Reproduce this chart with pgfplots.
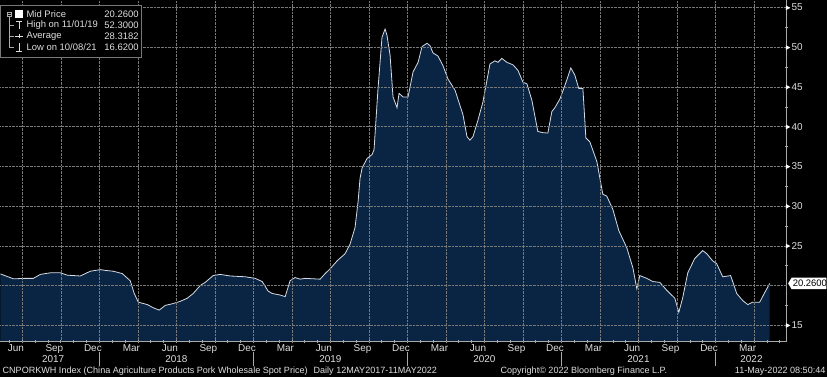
\documentclass[border=0pt]{standalone}
\usepackage{pgfplots}
\pgfplotsset{compat=1.18}
\usepackage{pgfplotstable}
\usepackage{fontspec}
\setmainfont{Liberation Sans}
\definecolor{bbnavy}{RGB}{10,37,68}
\definecolor{bbline}{RGB}{214,220,228}
\definecolor{bbgrid}{RGB}{120,120,120}
\definecolor{bbtext}{RGB}{222,222,222}
\definecolor{bbaxis}{RGB}{170,170,170}

% x = months since 1 Jan 2017, v = CNY/kg
\pgfplotstableread{
m v
4.30 21.46
5.31 20.84
6.24 20.90
6.86 20.90
7.41 21.40
8.19 21.60
8.97 21.60
9.51 21.30
10.52 21.20
11.30 21.80
12.08 22.00
12.47 21.90
13.09 21.80
13.79 21.50
14.41 20.60
14.72 19.00
15.04 17.90
15.74 17.60
16.20 17.20
16.67 16.90
17.14 17.50
17.68 17.70
18.30 18.00
18.85 18.40
19.32 19.00
19.86 20.00
20.25 20.40
20.87 21.25
21.42 21.40
22.20 21.20
23.36 21.10
24.14 20.90
24.69 20.50
25.15 19.30
25.46 19.00
26.09 18.80
26.48 18.60
26.86 20.60
27.25 21.00
27.64 20.80
28.03 20.90
29.20 20.80
29.59 21.50
29.98 22.10
30.52 23.10
31.14 24.00
31.53 25.20
31.92 27.30
32.16 30.60
32.31 33.50
32.47 34.80
32.86 36.00
33.25 36.50
33.40 37.10
33.71 44.80
34.02 51.25
34.26 52.30
34.41 51.50
34.65 49.00
34.88 43.75
35.19 42.40
35.35 44.20
35.66 43.75
36.05 43.75
36.44 46.90
36.83 48.10
37.14 50.10
37.53 50.50
37.76 50.20
37.99 49.30
38.38 48.90
38.77 47.70
39.16 46.00
39.71 44.60
40.09 42.70
40.33 41.50
40.64 38.75
40.87 38.30
41.11 38.75
41.49 40.80
41.88 43.10
42.43 47.90
42.82 48.30
43.05 48.10
43.36 48.60
43.75 48.10
44.22 47.80
44.61 47.10
45.00 45.60
45.31 45.40
45.70 43.30
46.16 39.40
46.55 39.25
46.94 39.20
47.25 41.90
47.49 42.40
47.88 43.50
48.27 45.20
48.73 47.40
49.04 46.50
49.35 44.80
49.67 44.80
49.90 38.60
50.21 38.10
50.76 35.60
51.22 31.50
51.53 31.25
52.00 29.60
52.47 26.90
53.09 24.75
53.56 22.25
53.87 19.60
54.10 21.25
54.65 20.90
55.11 20.50
55.66 20.40
56.20 19.40
56.83 18.40
57.14 16.62
57.45 18.50
57.84 21.60
58.38 23.40
59.00 24.40
59.32 24.00
59.78 23.10
60.09 22.75
60.56 21.10
61.18 21.25
61.65 19.00
62.12 18.10
62.51 17.60
62.90 17.90
63.44 17.90
63.83 19.10
64.22 20.26
}\pork

\begin{document}
\begin{tikzpicture}
\fill[black] (0bp,-36bp) rectangle (827bp,341bp);
\begin{axis}[
  at={(0bp,0bp)}, anchor=south west,
  scale only axis, width=787bp, height=341bp,
  xmin=4.30, xmax=65.54, ymin=13, ymax=55.9,
  axis x line*=bottom, axis y line*=right,
  axis line style={draw=bbaxis, line width=0.9bp},
  axis on top,
  xtick={5.5,8.5,...,62.5},
  xticklabels={Jun,Sep,Dec,Mar,Jun,Sep,Dec,Mar,Jun,Sep,Dec,Mar,Jun,Sep,Dec,Mar,Jun,Sep,Dec,Mar},
  extra x ticks={6,9,...,63},
  extra x tick labels={},
  extra x tick style={grid=major},
  minor xtick={5,6,...,65},
  ytick={15,25,30,...,55},
  extra y ticks={20},
  extra y tick labels={},
  extra y tick style={grid=major},
  minor ytick={17.5,22.5,...,52.5},
  ymajorgrids=true,
  grid style={densely dotted, draw=bbgrid, line width=0.5bp},
  major tick length=0pt,
  minor tick length=3bp,
  tick align=center,
  tick style={draw=bbaxis, line width=0.6bp},
  every tick label/.append style={text=bbtext, font=\fontsize{10}{12}\selectfont},
  xticklabel style={yshift=0bp},
  yticklabel={\tikz[baseline=-0.6ex]\fill[white] (0,-2.4bp)--(0,2.4bp)--(4.5bp,0)--cycle;\hspace{1.2bp}\pgfmathprintnumber[assume math mode=true]{\tick}},
  yticklabel style={anchor=west, xshift=-2bp, inner xsep=1bp},
]
\addplot[fill=bbnavy, draw=none] table[x=m, y=v] {\pork} \closedcycle;
\addplot[draw=bbline, line width=0.8bp] table[x=m, y=v] {\pork};
\end{axis}

% year labels and separators (under the month labels)
\begin{scope}[every node/.style={text=bbtext, font=\fontsize{10}{12}\selectfont, inner sep=0pt}]
\node at (52.7bp,-17.5bp) {2017};
\node at (176.1bp,-17.5bp) {2018};
\node at (330.3bp,-17.5bp) {2019};
\node at (484.5bp,-17.5bp) {2020};
\node at (638.7bp,-17.5bp) {2021};
\node at (751.8bp,-17.5bp) {2022};
\end{scope}
\draw[bbaxis, line width=0.6bp] (99.0bp,-11bp) -- (99.0bp,-25bp) (253.2bp,-11bp) -- (253.2bp,-25bp) (407.4bp,-11bp) -- (407.4bp,-25bp) (561.6bp,-11bp) -- (561.6bp,-25bp) (715.8bp,-11bp) -- (715.8bp,-25bp);

% last value tag (20.26)
\fill[white] (788.5bp,57.7bp) -- (792bp,63.5bp) -- (826.8bp,63.5bp) -- (826.8bp,51.9bp) -- (792bp,51.9bp) -- cycle;
\node[anchor=west, text=black, font=\fontsize{9.5}{11}\selectfont, inner sep=0pt] at (793bp,57.7bp) {20.2600};

% legend
\fill[black] (0bp,284bp) rectangle (141bp,336bp);
\draw[bbgrid, line width=0.5bp] (0.3bp,284bp) rectangle (141bp,336bp);
\draw[bbaxis, line width=0.4bp] (7bp,325bp) rectangle (11bp,329bp);
\draw[bbaxis, line width=0.4bp] (7.8bp,327bp) -- (10.2bp,327bp);
\draw[bbaxis, line width=0.4bp] (9bp,325bp) -- (9bp,294bp);
\draw[bbaxis, line width=0.4bp] (9bp,316bp) -- (14bp,316bp) (9bp,305bp) -- (14bp,305bp) (9bp,294bp) -- (14bp,294bp);
\fill[white] (15bp,323bp) rectangle (23bp,331bp);
\draw[bbtext, line width=0.6bp] (16bp,320bp) -- (22bp,320bp) (19bp,320bp) -- (19bp,312bp);
\draw[bbtext, line width=0.6bp] (15bp,305bp) -- (23bp,305bp) (19bp,303bp) -- (19bp,307bp);
\draw[bbtext, line width=0.6bp] (19bp,298bp) -- (19bp,290bp) (16bp,290bp) -- (22bp,290bp);
\begin{scope}[every node/.style={text=bbtext, font=\fontsize{9.5}{11}\selectfont, inner sep=0pt}]
\node[anchor=west] at (26bp,327bp) {Mid Price};
\node[anchor=west] at (26bp,316bp) {High on 11/01/19};
\node[anchor=west] at (26bp,305bp) {Average};
\node[anchor=west] at (26bp,294bp) {Low on 10/08/21};
\node[anchor=east] at (138.5bp,327bp) {20.2600};
\node[anchor=east] at (138.5bp,316bp) {52.3000};
\node[anchor=east] at (138.5bp,305bp) {28.3182};
\node[anchor=east] at (138.5bp,294bp) {16.6200};
\end{scope}

% footer
\begin{scope}[every node/.style={text=bbtext, font=\fontsize{9.1}{11}\selectfont, inner sep=0pt}]
\node[anchor=west] at (2bp,-30bp) {CNPORKWH Index (China Agriculture Products Pork Wholesale Spot Price)\hspace{6bp}Daily 12MAY2017-11MAY2022};
\node at (584bp,-30bp) {Copyright\textcopyright{} 2022 Bloomberg Finance L.P.};
\node[anchor=east] at (826bp,-30bp) {11-May-2022 08:50:44};
\end{scope}
\end{tikzpicture}
\end{document}
